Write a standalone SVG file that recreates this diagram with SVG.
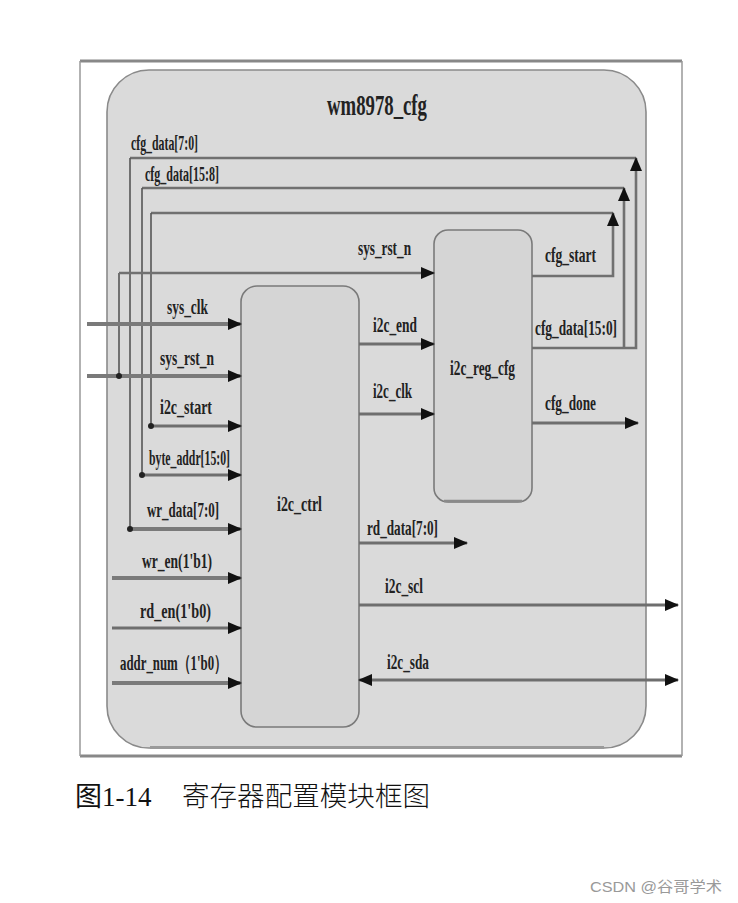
<svg xmlns="http://www.w3.org/2000/svg" width="738" height="903" viewBox="0 0 738 903">
<defs>
<marker id="arr" markerUnits="userSpaceOnUse" markerWidth="14" markerHeight="12" refX="13" refY="6" orient="auto-start-reverse">
<path d="M0,0 L14,6 L0,12 z" fill="#111"/>
</marker>
<style>
.lbl{font-family:"Liberation Serif","Times New Roman",serif;font-weight:bold;font-size:21px;fill:#222;}
.ttl{font-family:"Liberation Serif","Times New Roman",serif;font-weight:bold;font-size:30px;fill:#222;}
.sig{fill:none;stroke:#6e6e6e;stroke-width:3;}
.thk{fill:none;stroke:#7a7a7a;stroke-width:4;}
.fb{fill:none;stroke:#555;stroke-width:1.6;}
.fbh{fill:none;stroke:#707070;stroke-width:2.6;}
.blk{fill:#d5d5d5;stroke:#7a7a7a;stroke-width:1.6;}
.dot{fill:#222;}
</style>
</defs>
<rect width="738" height="903" fill="#ffffff"/>
<g id="frame">
<line x1="80" y1="61" x2="682" y2="61" stroke="#888" stroke-width="3"/>
<line x1="80" y1="756" x2="682" y2="756" stroke="#888" stroke-width="3"/>
<line x1="80" y1="61" x2="80" y2="756" stroke="#999" stroke-width="1.5"/>
<line x1="682" y1="61" x2="682" y2="756" stroke="#999" stroke-width="1.5"/>
</g>
<g id="wm8978_cfg">
<rect x="107" y="70" width="539" height="678" rx="42" fill="#dadada" stroke="#8a8a8a" stroke-width="1.6"/>
<path d="M150,747.5 H604" stroke="#9a9a9a" stroke-width="3" fill="none"/>
<text class="ttl" x="327" y="115" textLength="100" lengthAdjust="spacingAndGlyphs">wm8978_cfg</text>
</g>
<g id="i2c_ctrl">
<rect class="blk" x="241" y="286" width="118" height="441" rx="16"/>
<text class="lbl" x="277" y="511" textLength="45" lengthAdjust="spacingAndGlyphs">i2c_ctrl</text>
</g>
<g id="i2c_reg_cfg">
<rect class="blk" x="434" y="230" width="98" height="272" rx="14"/>
<path d="M444,501 H522" stroke="#8a8a8a" stroke-width="2.5" fill="none"/>
<text class="lbl" x="450" y="375" textLength="65" lengthAdjust="spacingAndGlyphs">i2c_reg_cfg</text>
</g>
<g id="connectors">
<path class="fbh" d="M130,158 H636"/>
<path class="fbh" d="M142,188 H624"/>
<path class="fbh" d="M151,213 H613"/>
<path class="fb" d="M130,158 V529"/>
<path class="fb" d="M142,188 V475"/>
<path class="fb" d="M151,213 V426"/>
<path class="fb" d="M119,377 V273"/>
<path class="fbh" d="M119,273 H434" marker-end="url(#arr)"/>
<path class="fbh" d="M532,276 H613 V213" marker-end="url(#arr)"/>
<path class="fbh" d="M532,348 H636 V158" marker-end="url(#arr)"/>
<path class="fbh" d="M624,348 V188" marker-end="url(#arr)"/>
<path class="thk" d="M87,324 H241" marker-end="url(#arr)"/>
<path class="thk" d="M87,376 H241" marker-end="url(#arr)"/>
<path class="sig" d="M151,426 H241" marker-end="url(#arr)"/>
<path class="sig" d="M142,475 H241" marker-end="url(#arr)"/>
<path class="thk" d="M130,529 H241" marker-end="url(#arr)"/>
<path class="thk" d="M112,578 H241" marker-end="url(#arr)"/>
<path class="sig" d="M112,628 H241" marker-end="url(#arr)"/>
<path class="thk" d="M112,683 H241" marker-end="url(#arr)"/>
<circle class="dot" cx="119" cy="376" r="3"/>
<circle class="dot" cx="151" cy="426" r="3"/>
<circle class="dot" cx="142" cy="475" r="3"/>
<circle class="dot" cx="130" cy="529" r="3"/>
<path class="sig" d="M359,344 H434" marker-end="url(#arr)"/>
<path class="sig" d="M359,414 H434" marker-end="url(#arr)"/>
<path class="sig" d="M532,423 H638" marker-end="url(#arr)"/>
<path class="sig" d="M359,543 H467" marker-end="url(#arr)"/>
<path class="sig" d="M359,605 H678" marker-end="url(#arr)"/>
<path class="sig" d="M359,680 H678" marker-start="url(#arr)" marker-end="url(#arr)"/>
<text class="lbl" x="131" y="150" textLength="67" lengthAdjust="spacingAndGlyphs">cfg_data[7:0]</text>
<text class="lbl" x="145" y="181" textLength="74" lengthAdjust="spacingAndGlyphs">cfg_data[15:8]</text>
<text class="lbl" x="358" y="255" textLength="53" lengthAdjust="spacingAndGlyphs">sys_rst_n</text>
<text class="lbl" x="545" y="262" textLength="51" lengthAdjust="spacingAndGlyphs">cfg_start</text>
<text class="lbl" x="535" y="335" textLength="82" lengthAdjust="spacingAndGlyphs">cfg_data[15:0]</text>
<text class="lbl" x="545" y="410" textLength="51" lengthAdjust="spacingAndGlyphs">cfg_done</text>
<text class="lbl" x="373" y="332" textLength="44" lengthAdjust="spacingAndGlyphs">i2c_end</text>
<text class="lbl" x="373" y="398" textLength="39" lengthAdjust="spacingAndGlyphs">i2c_clk</text>
<text class="lbl" x="167" y="314" textLength="41" lengthAdjust="spacingAndGlyphs">sys_clk</text>
<text class="lbl" x="160" y="365" textLength="54" lengthAdjust="spacingAndGlyphs">sys_rst_n</text>
<text class="lbl" x="160" y="414" textLength="52" lengthAdjust="spacingAndGlyphs">i2c_start</text>
<text class="lbl" x="149" y="465" textLength="81" lengthAdjust="spacingAndGlyphs">byte_addr[15:0]</text>
<text class="lbl" x="147" y="517" textLength="72" lengthAdjust="spacingAndGlyphs">wr_data[7:0]</text>
<text class="lbl" x="142" y="568" textLength="70" lengthAdjust="spacingAndGlyphs">wr_en(1'b1)</text>
<text class="lbl" x="140" y="618" textLength="71" lengthAdjust="spacingAndGlyphs">rd_en(1'b0)</text>
<text class="lbl" x="120" y="670" textLength="107" lengthAdjust="spacingAndGlyphs">addr_num（1'b0）</text>
<text class="lbl" x="367" y="535" textLength="71" lengthAdjust="spacingAndGlyphs">rd_data[7:0]</text>
<text class="lbl" x="385" y="593" textLength="38" lengthAdjust="spacingAndGlyphs">i2c_scl</text>
<text class="lbl" x="387" y="669" textLength="42" lengthAdjust="spacingAndGlyphs">i2c_sda</text>
</g>
<g id="caption">
<text x="75" y="806" font-family="'Liberation Serif','Noto Sans CJK SC',serif" font-size="27" fill="#111">图1-14</text>
<text x="182" y="806" font-family="'Noto Sans CJK SC',sans-serif" font-size="27" font-weight="300" fill="#111" textLength="248" lengthAdjust="spacingAndGlyphs">寄存器配置模块框图</text>
<text x="590" y="892" font-family="'Liberation Sans','Noto Sans CJK SC',sans-serif" font-size="15" fill="#999" textLength="132" lengthAdjust="spacingAndGlyphs">CSDN @谷哥学术</text>
</g>
</svg>
